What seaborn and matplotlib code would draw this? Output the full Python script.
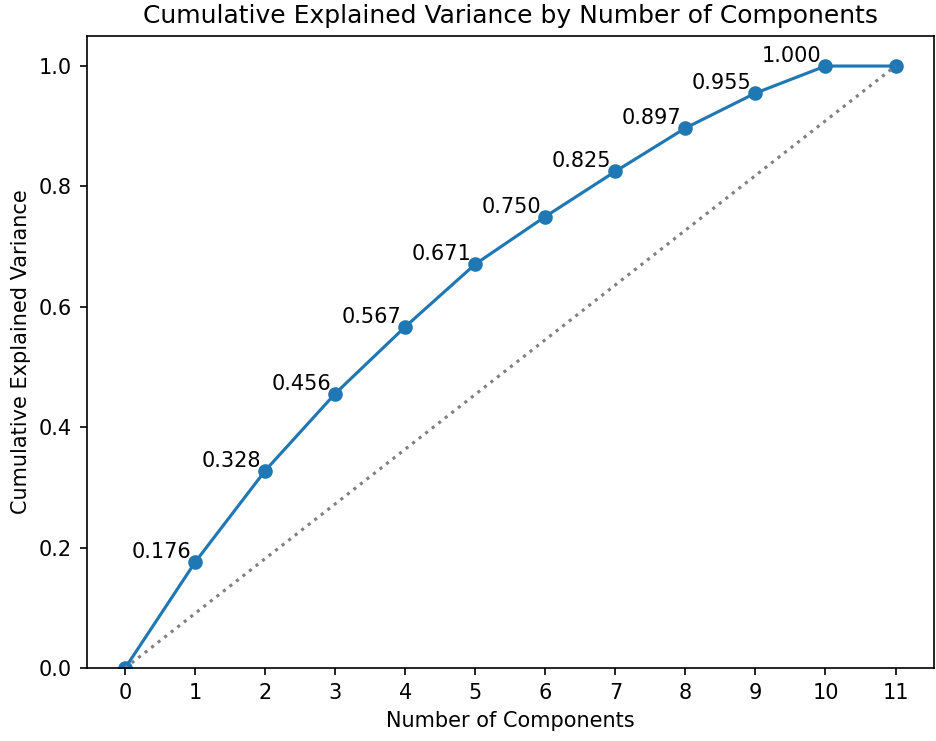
import matplotlib
matplotlib.use("Agg")
import matplotlib.pyplot as plt
import seaborn as sns
import numpy as np

components = [0, 1, 2, 3, 4, 5, 6, 7, 8, 9, 10, 11]
cum_var = [0.0, 0.176, 0.328, 0.456, 0.567, 0.671, 0.750, 0.825, 0.897, 0.955, 1.000, 1.000]
diag_x = [0, 11]
diag_y = [0, 1]

fig = plt.figure(figsize=(6.24, 4.94), dpi=150)
ax = fig.add_axes([0.0926, 0.0985, 0.9053, 0.853])

sns.lineplot(x=components, y=cum_var, marker='o', color='#1f77b4', linewidth=1.5,
             markersize=6, markeredgecolor='#1f77b4', markeredgewidth=1, ax=ax)
ax.plot(diag_x, diag_y, linestyle=':', color='gray', linewidth=1.5)

for xv, yv in zip(components[1:-1], cum_var[1:-1]):
    ax.annotate(f'{yv:.3f}', (xv, yv), xytext=(-2, 0), textcoords='offset points',
                ha='right', va='bottom', fontsize=10)

ax.set_xticks(components)
ax.set_ylim(0, 1.05)
ax.set_xlabel('Number of Components')
ax.set_ylabel('Cumulative Explained Variance')
ax.set_title('Cumulative Explained Variance by Number of Components')

fig.savefig('out.png', dpi=150)
